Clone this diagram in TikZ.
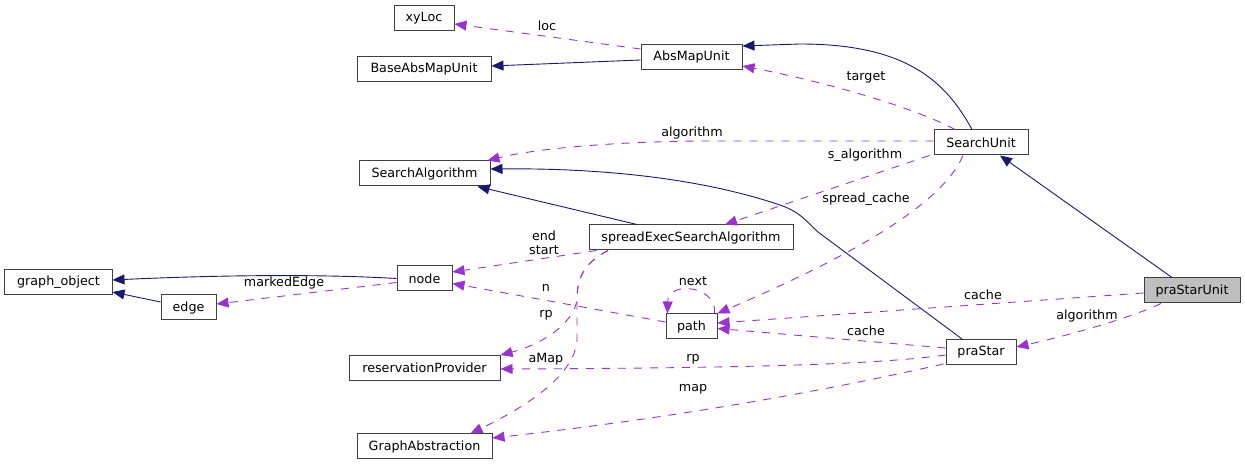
\documentclass[tikz,border=0pt]{standalone}
\usepackage{fontspec}
\setmainfont{DejaVu Sans}
\usetikzlibrary{arrows.meta,calc}
\definecolor{inhc}{HTML}{191970}
\definecolor{usec}{HTML}{9A32CD}
\definecolor{boxline}{HTML}{404040}
\definecolor{focusc}{HTML}{BFBFBF}
\begin{document}
\begin{tikzpicture}[x=1bp,y=-1bp,
  cls/.style={draw=boxline, line width=1bp, minimum height=25bp, inner sep=0pt,
    font=\fontsize{12.7bp}{15bp}\selectfont, anchor=center},
  inhe/.style={draw=inhc, line width=0.9bp, -{Triangle[length=12bp,width=10bp]}},
  usee/.style={draw=usec, line width=0.9bp, dash pattern=on 8bp off 8bp,
    -{Triangle[length=12bp,width=10bp]}},
  lbl/.style={font=\fontsize{12.7bp}{15bp}\selectfont, inner sep=0pt, anchor=center, align=center}
]
\path[use as bounding box] (0,0) rectangle (1245,465);

% classes
\node[cls, minimum width=60bp]  (xyLoc)      at (424,18.5)  {xyLoc};
\node[cls, minimum width=134bp] (BaseAbs)    at (424,69.5)  {BaseAbsMapUnit};
\node[cls, minimum width=101bp] (AbsMap)     at (691.5,57.5) {AbsMapUnit};
\node[cls, minimum width=94bp]  (SearchUnit) at (981,142.5) {SearchUnit};
\node[cls, minimum width=131bp] (SearchAlg)  at (424.5,173.5) {SearchAlgorithm};
\node[cls, minimum width=204bp] (spreadExec) at (691,237.5) {spreadExecSearchAlgorithm};
\node[cls, minimum width=107bp] (graphobj)   at (58.5,282.5) {graph\_object};
\node[cls, minimum width=55bp]  (edgeN)      at (188.5,307.5) {edge};
\node[cls, minimum width=55bp]  (nodeN)      at (424.5,278.5) {node};
\node[cls, minimum width=51bp]  (pathN)      at (691.5,326.5) {path};
\node[cls, minimum width=151bp] (resProv)    at (424.5,368) {reservationProvider};
\node[cls, minimum width=135bp] (GraphAbs)   at (424.5,446.5) {GraphAbstraction};
\node[cls, minimum width=70bp]  (praStar)    at (981,352) {praStar};
\node[cls, minimum width=96bp, fill=focusc] (praStarUnit) at (1192,290.5) {praStarUnit};

% inheritance (solid)
\draw[inhe] ($(AbsMap.west)+(0,2.5)$) -- ($(BaseAbs.east)+(0,-3.5)$);
\draw[inhe] ($(SearchUnit.north)+(-9,0)$) .. controls (945,80) and (905,44) .. (800,44) -- ($(AbsMap.east)+(0,-11.5)$);
\draw[inhe] ($(praStarUnit.north)+(-20,0)$) -- ($(SearchUnit.south)+(19,0)$);
\draw[inhe] ($(spreadExec.north)+(-54,0)$) -- ($(SearchAlg.south)+(53,0)$);
\draw[inhe] ($(praStar.north)+(-19,0)$) -- (818,232) .. controls (805,220) and (800,212) .. (780,205)
   .. controls (700,178) and (600,168) .. ($(SearchAlg.east)+(0,-4.5)$);
\draw[inhe] (nodeN.west) .. controls (320,274) and (220,275) .. ($(graphobj.east)+(0,-2.5)$);
\draw[inhe] ($(edgeN.west)+(0,-5.5)$) -- ($(graphobj.east)+(0,9.5)$);

% usage (dashed)
\draw[usee] ($(AbsMap.west)+(0,-8.5)$) -- ($(xyLoc.east)+(0,5.5)$);
\draw[usee] ($(SearchUnit.north)+(-26,0)$) .. controls (915,108) and (830,83) .. ($(AbsMap.east)+(0,8.5)$);
\draw[usee] ($(SearchUnit.west)+(0,-1.5)$) -- (700,141) .. controls (600,142) and (530,150) .. ($(SearchAlg.north east)+(-3,0)$);
\draw[usee] ($(SearchUnit.south west)+(-4,0)$) -- ($(spreadExec.north)+(34,0)$);
\draw[usee] ($(SearchUnit.south)+(-18,0)$) .. controls (940,210) and (830,265) .. ($(pathN.north east)+(0,0)$);
\draw[usee] ($(spreadExec.south west)+(8,0)$) -- ($(nodeN.east)+(0,-6.5)$);
\draw[usee] ($(spreadExec.south)+(-83,0)$) .. controls (582,264) and (577,280) .. (577,300)
   .. controls (573,325) and (540,345) .. ($(resProv.north east)+(0,0)$);
\draw[usee] ($(spreadExec.south)+(-83,0)$) .. controls (582,264) and (577,280) .. (577,300) -- (577,340)
   .. controls (575,370) and (540,400) .. ($(GraphAbs.north east)+(-22,0)$);
\draw[usee] ($(nodeN.west)+(0,4)$) -- ($(edgeN.east)+(0,-3.5)$);
\draw[usee] ($(pathN.west)+(0,-4.5)$) -- ($(nodeN.east)+(0,5)$);
\draw[usee] ($(pathN.north east)+(-3,0)$) .. controls (718,286) and (668,280) .. ($(pathN.north west)+(2,0)$);
\draw[usee] ($(praStarUnit.west)+(0,2.5)$) -- ($(pathN.east)+(0,-3.5)$);
\draw[usee] ($(praStar.west)+(0,-4)$) -- ($(pathN.east)+(0,2)$);
\draw[usee] ($(praStarUnit.south)+(-31,0)$) .. controls (1130,318) and (1070,335) .. ($(praStar.east)+(0,-5)$);
\draw[usee] ($(praStar.west)+(0,3)$) .. controls (880,364) and (760,368) .. ($(resProv.east)+(0,1)$);
\draw[usee] ($(praStar.south west)+(-2,-1)$) .. controls (850,385) and (700,415) .. ($(GraphAbs.east)+(0,-8.5)$);

% labels
\node[lbl] (lLoc)    at (547,26)  {loc};
\node[lbl] (lTarget) at (866,77)  {target};
\node[lbl] (lAlg)    at (692,133) {algorithm};
\node[lbl] (lSAlg)   at (865,155) {s\_algorithm};
\node[lbl] (lSpread) at (866,199) {spread\_cache};
\node[lbl] (lEnd)    at (544,236) {end};
\node[lbl] (lStart)  at (544,250) {start};
\node[lbl] (lN)      at (546,288) {n};
\node[lbl] (lNext)   at (693,281) {next};
\node[lbl] (lRp)     at (546,315) {rp};
\node[lbl] (lAMap)   at (546,359) {aMap};
\node[lbl] (lRp2)    at (693,359) {rp};
\node[lbl] (lMap)    at (693,389) {map};
\node[lbl] (lMarked) at (284,283) {markedEdge};
\node[lbl] (lCache)  at (983,295) {cache};
\node[lbl] (lCache2) at (866,331) {cache};
\node[lbl] (lAlg2)   at (1087,316) {algorithm};
\end{tikzpicture}
\end{document}
